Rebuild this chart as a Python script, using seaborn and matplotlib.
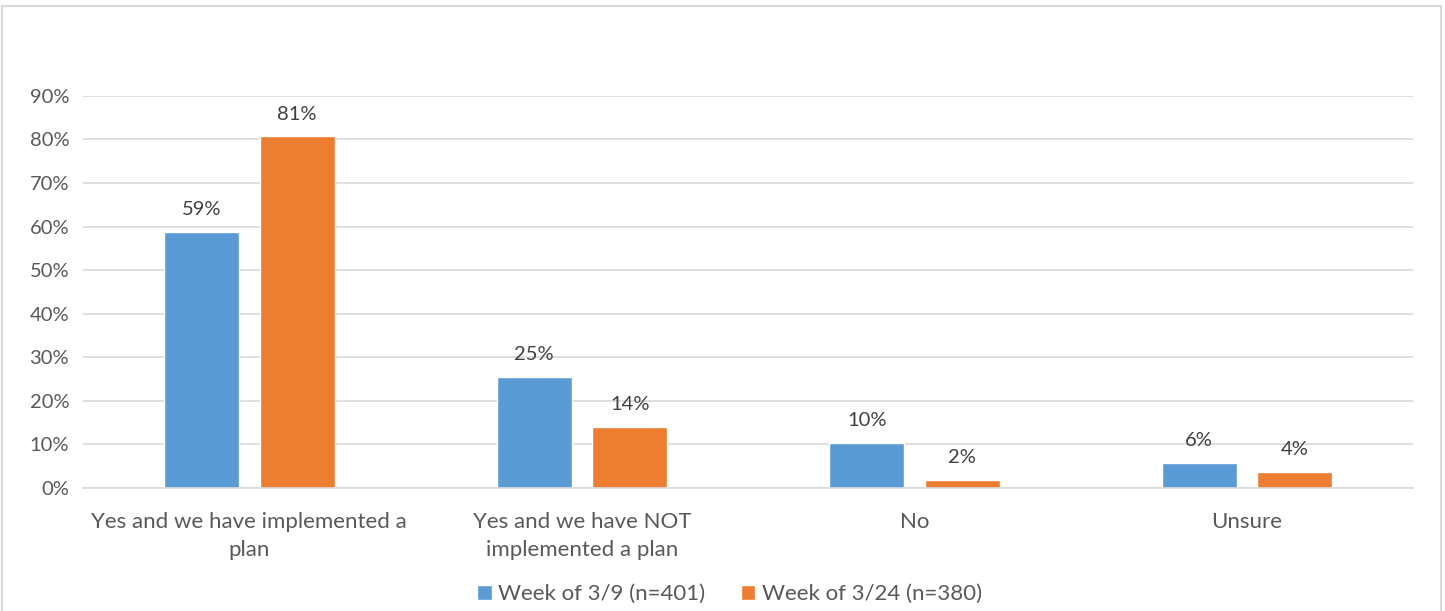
import matplotlib
matplotlib.use('Agg')
import matplotlib.pyplot as plt
import seaborn as sns
import pandas as pd
from matplotlib.patches import Rectangle
from matplotlib.ticker import PercentFormatter

categorias = ['Yes and we have implemented a\nplan', 'Yes and we have NOT\nimplemented a plan', 'No', 'Unsure']
semana_1 = [58.7, 25.4, 10.3, 5.7]
semana_2 = [80.7, 14.0, 1.8, 3.7]
series = ['Week of 3/9 (n=401)', 'Week of 3/24 (n=380)']
cores = ['#5B9BD5', '#ED7D31']

cinza = '#595959'

sns.set_style('white')
plt.rcParams['font.family'] = ['Lato', 'DejaVu Sans']

df = pd.DataFrame({
    'Categoria': categorias * 2,
    'Valor': semana_1 + semana_2,
    'Serie': [series[0]] * 4 + [series[1]] * 4,
})

fig = plt.figure(figsize=(14.45, 6.11), dpi=100)
ax = fig.add_axes([0.0575, 0.2013, 0.9205, 0.6417])

sns.barplot(data=df, x='Categoria', y='Valor', hue='Serie', hue_order=series,
            palette=cores, width=0.575, gap=0.215, saturation=1, ax=ax,
            legend=True)

for cont in ax.containers:
    ax.bar_label(cont, labels=[f'{round(b.get_height()):.0f}%' for b in cont],
                 padding=10, fontsize=14.5, color='#404040')

ax.set_ylim(0, 90)
ax.set_yticks(range(0, 91, 10))
ax.yaxis.set_major_formatter(PercentFormatter(decimals=0))
ax.set_xlim(-0.5, 3.5)
ax.grid(axis='y', color='#D9D9D9', linewidth=1.2)
ax.set_axisbelow(True)
for s in ['top', 'right', 'left']:
    ax.spines[s].set_visible(False)
ax.spines['bottom'].set_color('#D9D9D9')
ax.spines['bottom'].set_linewidth(1.2)
ax.tick_params(axis='y', length=0, labelsize=14.5, labelcolor=cinza, pad=10)
ax.tick_params(axis='x', length=0, labelsize=16, labelcolor=cinza, pad=17)
for t in ax.get_xticklabels():
    t.set_linespacing(1.5)
ax.set_xlabel('')
ax.set_ylabel('')

handles, labels = ax.get_legend_handles_labels()
ax.get_legend().remove()
fig.legend(handles, labels, loc='center', bbox_to_anchor=(0.505, 0.028), ncol=2,
           frameon=False, fontsize=16, labelcolor=cinza, handlelength=0.65,
           handleheight=0.65, handletextpad=0.3, columnspacing=1.6)

fig.patches.append(Rectangle((0.0012, -0.01), 0.996, 1.0, transform=fig.transFigure,
                             fill=False, edgecolor='#D9D9D9', linewidth=1.5))

fig.savefig('out.png', dpi=100)
